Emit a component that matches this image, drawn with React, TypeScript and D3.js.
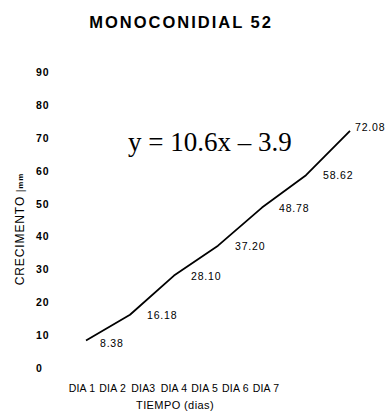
import React from "react";
import * as d3 from "d3";

const days = ["DIA 1", "DIA 2", "DIA3", "DIA 4", "DIA 5", "DIA 6", "DIA 7"];
const growth = [8.38, 16.18, 28.1, 37.2, 48.78, 58.62, 72.08];
const yTicks = [0, 10, 20, 30, 40, 50, 60, 70, 80, 90];
const title = "MONOCONIDIAL 52";
const equation = "y = 10.6x \u2013 3.9";
const yTitle = "CRECIMENTO";
const yUnit = "mm";
const xTitle = "TIEMPO (dias)";

const W = 387;
const H = 417;
const sans = "Arial, 'Liberation Sans', Helvetica, sans-serif";
const serif = "'Times New Roman', 'Liberation Serif', serif";

export default function App() {
  const y = d3.scaleLinear().domain([0, 90]).range([368, 72]);
  const xLine = d3.scalePoint<string>().domain(days).range([86, 350]);
  const xLab = d3.scalePoint<string>().domain(days).range([82, 266]);
  const line = d3
    .line<number>()
    .x((_, i) => xLine(days[i]) as number)
    .y((d) => y(d));

  return (
    <svg
      width={W}
      height={H}
      style={{ position: "absolute", left: 0, top: 0, background: "#fff" }}
    >
      <rect width={W} height={H} fill="#fff" />
      <text
        x={181}
        y={28}
        textAnchor="middle"
        fontFamily={sans}
        fontWeight="bold"
        fontSize={16.5}
        letterSpacing={2}
        fill="#000"
      >
        {title}
      </text>
      {yTicks.map((t) => (
        <text
          key={t}
          x={36}
          y={y(t)}
          dominantBaseline="central"
          fontFamily={sans}
          fontWeight="bold"
          fontSize={10.5}
          letterSpacing={0.8}
          fill="#000"
        >
          {t}
        </text>
      ))}
      {days.map((d) => (
        <text
          key={d}
          x={xLab(d)}
          y={388}
          textAnchor="middle"
          dominantBaseline="central"
          fontFamily={sans}
          fontSize={10.5}
          letterSpacing={0.2}
          fill="#000"
        >
          {d}
        </text>
      ))}
      <text
        x={175}
        y={405}
        textAnchor="middle"
        dominantBaseline="central"
        fontFamily={sans}
        fontSize={11}
        letterSpacing={0.4}
        fill="#000"
      >
        {xTitle}
      </text>
      <text
        transform={`translate(20,${229}) rotate(-90)`}
        textAnchor="middle"
        dominantBaseline="central"
        fontFamily={sans}
        fontSize={12}
        letterSpacing={0.9}
        fill="#000"
      >
        {yTitle}
        <tspan fontSize={10}> |</tspan>
        <tspan fontSize={8} fontWeight="bold">{yUnit}</tspan>
      </text>
      <path
        d={line(growth) ?? ""}
        fill="none"
        stroke="#000"
        strokeWidth={1.8}
        strokeLinejoin="round"
      />
      {growth.map((v, i) => {
        const last = i === growth.length - 1;
        const px = xLine(days[i]) as number;
        const py = y(v);
        return (
          <text
            key={i}
            x={px + (last ? 5 : i === 0 ? 14 : 17)}
            y={py + (last ? -4 : i === 0 ? 3 : 0)}
            dominantBaseline="central"
            fontFamily={sans}
            fontSize={10.5}
            letterSpacing={0.8}
            fill="#000"
          >
            {v.toFixed(2)}
          </text>
        );
      })}
      <text x={128} y={151} fontFamily={serif} fontSize={27} fill="#000">
        {equation}
      </text>
    </svg>
  );
}
